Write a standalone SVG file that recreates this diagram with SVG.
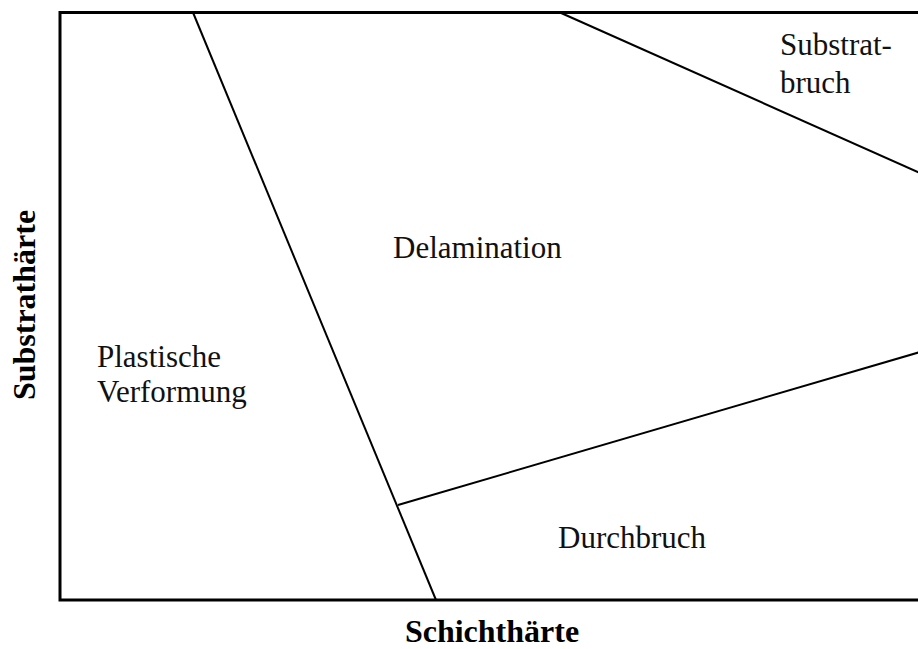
<svg xmlns="http://www.w3.org/2000/svg" width="918" height="649" viewBox="0 0 918 649">
<style>
.frame{fill:none;stroke:#000;stroke-width:3}
.div{fill:none;stroke:#000;stroke-width:2}
.lbl{font-family:"Liberation Serif","Times New Roman",serif;font-size:31px;fill:#111}
.ax{font-family:"Liberation Serif","Times New Roman",serif;font-size:32px;font-weight:bold;fill:#000}
</style>
<rect width="918" height="649" fill="#fff"/>
<g id="connectors">
<path class="frame" d="M920,12.5 H60 V600 H920"/>
<line class="div" x1="193" y1="12.5" x2="436" y2="600"/>
<line class="div" x1="560" y1="12.5" x2="920" y2="173"/>
<line class="div" x1="398" y1="505" x2="920" y2="352"/>
</g>
<g id="plastische"><text class="lbl" x="97" y="367">Plastische</text><text class="lbl" x="97" y="402">Verformung</text></g>
<g id="delamination"><text class="lbl" x="393" y="258">Delamination</text></g>
<g id="substratbruch"><text class="lbl" x="780" y="55">Substrat-</text><text class="lbl" x="780" y="93">bruch</text></g>
<g id="durchbruch"><text class="lbl" x="558" y="548">Durchbruch</text></g>
<g id="xaxis"><text class="ax" x="492" y="642" text-anchor="middle">Schichthärte</text></g>
<g id="yaxis"><text class="ax" transform="translate(35,305) rotate(-90)" text-anchor="middle">Substrathärte</text></g>
</svg>
